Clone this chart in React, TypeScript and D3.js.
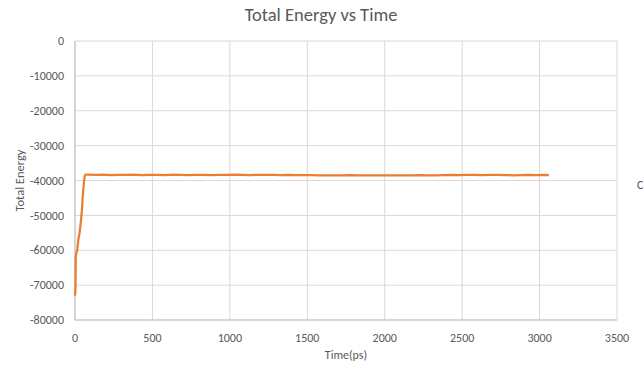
import React from "react";
import * as d3 from "d3";

const riseTimes = [0, 3, 5, 10, 15, 21, 26, 32, 39, 45, 50, 55, 58, 62, 65, 70];
const riseEnergy = [-73000, -71500, -61800, -60500, -59900, -57000, -56000, -54200, -51300, -48400, -44600, -42000, -40300, -39000, -38400, -38300];

const plateauTimes = [80, 130, 180, 230, 280, 330, 380, 430, 480, 530, 580, 630, 680, 730, 780, 830, 880, 930, 980, 1030, 1080, 1130, 1180, 1230, 1280, 1330, 1380, 1430, 1480, 1530, 1580, 1630, 1680, 1730, 1780, 1830, 1880, 1930, 1980, 2030, 2080, 2130, 2180, 2230, 2280, 2330, 2380, 2430, 2480, 2530, 2580, 2630, 2680, 2730, 2780, 2830, 2880, 2930, 2980, 3030, 3060];
const plateauEnergy = [-38350, -38400, -38350, -38450, -38400, -38420, -38350, -38450, -38420, -38380, -38450, -38350, -38420, -38450, -38400, -38420, -38450, -38380, -38420, -38350, -38420, -38450, -38380, -38420, -38400, -38450, -38380, -38430, -38450, -38480, -38500, -38520, -38500, -38500, -38480, -38520, -38500, -38500, -38520, -38500, -38500, -38500, -38520, -38480, -38520, -38500, -38450, -38400, -38450, -38420, -38400, -38450, -38420, -38400, -38480, -38500, -38450, -38400, -38450, -38400, -38450];

const xTicks = [0, 500, 1000, 1500, 2000, 2500, 3000, 3500];
const yTicks = [0, -10000, -20000, -30000, -40000, -50000, -60000, -70000, -80000];

const title = "Total Energy vs Time";
const xTitle = "Time(ps)";
const yTitle = "Total Energy";

export default function App() {
  const W = 643, H = 370;
  const left = 75, right = 617, top = 41, bottom = 320;
  const x = d3.scaleLinear().domain([0, 3500]).range([left, right]);
  const y = d3.scaleLinear().domain([-80000, 0]).range([bottom, top]);

  const pts: [number, number][] = [];
  riseTimes.forEach((t, i) => pts.push([t, riseEnergy[i]]));
  plateauTimes.forEach((t, i) => pts.push([t, plateauEnergy[i]]));

  const line = d3.line<[number, number]>().x(d => x(d[0])).y(d => y(d[1]));
  const font = "Calibri, Carlito, 'Open Sans', 'Liberation Sans', sans-serif";
  const txt = "#595959";

  return (
    <svg width={W} height={H} style={{ position: "absolute", left: 0, top: 0, background: "#fff" }} fontFamily={font}>
      <rect x={0} y={0} width={W} height={H} fill="#fff" />
      {yTicks.map(v => (
        <line key={"gy" + v} x1={left} x2={right} y1={y(v)} y2={y(v)} stroke="#d9d9d9" strokeWidth={1} />
      ))}
      {xTicks.map(v => (
        <line key={"gx" + v} x1={x(v)} x2={x(v)} y1={top} y2={bottom} stroke="#d9d9d9" strokeWidth={1} />
      ))}
      <line x1={left} x2={left} y1={top} y2={bottom} stroke="#bfbfbf" strokeWidth={1} />
      <line x1={left} x2={right} y1={bottom} y2={bottom} stroke="#bfbfbf" strokeWidth={1} />
      {yTicks.map(v => (
        <text key={"ty" + v} x={left - 11} y={y(v)} dy="0.35em" textAnchor="end" fontSize={12} fill={txt}>{v}</text>
      ))}
      {xTicks.map(v => (
        <text key={"tx" + v} x={x(v)} y={bottom + 18} dy="0.35em" textAnchor="middle" fontSize={12} fill={txt}>{v}</text>
      ))}
      <path d={line(pts) || ""} fill="none" stroke="#ed7d31" strokeWidth={2.25} strokeLinejoin="round" />
      <text x={321} y={15} dy="0.35em" textAnchor="middle" fontSize={18.5} fill={txt}>{title}</text>
      <text x={346} y={355} dy="0.35em" textAnchor="middle" fontSize={12} fill={txt}>{xTitle}</text>
      <text transform={`translate(20,${(top + bottom) / 2}) rotate(-90)`} dy="0.35em" textAnchor="middle" fontSize={12.5} fill={txt}>{yTitle}</text>
      <text x={637} y={185} dy="0.35em" fontSize={12} fill={txt}>C</text>
    </svg>
  );
}
